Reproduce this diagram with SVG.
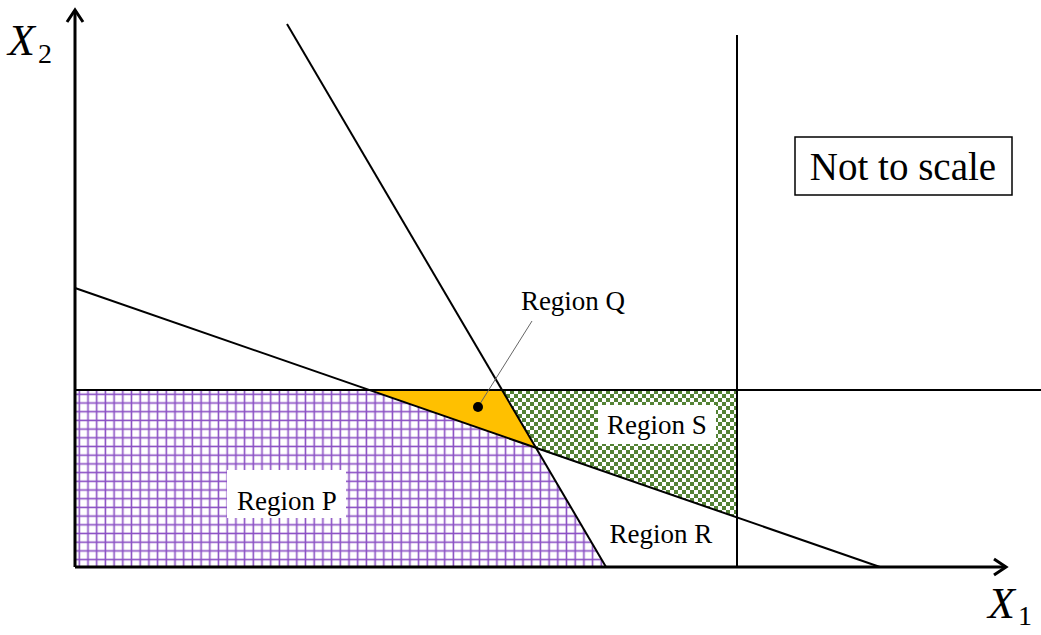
<svg xmlns="http://www.w3.org/2000/svg" width="1041" height="635" viewBox="0 0 1041 635">
<style>
.ln{stroke:#000;stroke-width:2;fill:none}
.ax{stroke:#000;stroke-width:3;fill:none}
.lbl{font-family:"Liberation Serif",serif;font-size:27px;fill:#000;text-anchor:middle}
.var{font-family:"Liberation Serif",serif;font-style:italic;fill:#000}
.sub{font-family:"Liberation Serif",serif;fill:#000}
</style>
<defs>
<pattern id="grid" patternUnits="userSpaceOnUse" x="75" y="390" width="8.7" height="8.7">
<rect width="8.7" height="8.7" fill="#fff"/>
<line x1="4.3" y1="0" x2="4.3" y2="8.7" stroke="#8a4fc4" stroke-width="1.6"/>
<line x1="0" y1="4.3" x2="8.7" y2="4.3" stroke="#8a4fc4" stroke-width="1.6"/>
</pattern>
<pattern id="check" patternUnits="userSpaceOnUse" x="502" y="390" width="8" height="8">
<rect width="8" height="8" fill="#fff"/>
<rect width="4" height="4" fill="#548235"/>
<rect x="4" y="4" width="4" height="4" fill="#548235"/>
</pattern>
</defs>
<rect width="1041" height="635" fill="#fff"/>
<g id="regionP"><polygon points="75,390 369,390 537,449 606,567 75,567" fill="url(#grid)"/></g>
<g id="regionQ"><polygon points="369,390 502,390 537,449" fill="#ffc000"/></g>
<g id="regionS"><polygon points="502,390 737,390 737,517 537,449" fill="url(#check)"/></g>
<g id="connectors">
<line class="ln" x1="287" y1="24" x2="606" y2="567"/>
<line class="ln" x1="75" y1="288" x2="880" y2="567"/>
<line class="ln" x1="75" y1="390" x2="1041" y2="390"/>
<line class="ln" x1="737" y1="35" x2="737" y2="567"/>
<line class="ax" x1="75" y1="567" x2="75" y2="10"/>
<polyline class="ax" points="67,22 75,10 83,22"/>
<line class="ax" x1="75" y1="567" x2="1006" y2="567"/>
<polyline class="ax" points="994,559 1006,567 994,575"/>
<line x1="532" y1="321" x2="478" y2="407" stroke="#666" stroke-width="1"/>
<circle cx="478" cy="407" r="5" fill="#000"/>
</g>
<g id="labelP"><rect x="227" y="470" width="119" height="48" fill="#fff"/><text class="lbl" x="287" y="510">Region P</text></g>
<g id="labelQ"><text class="lbl" x="573" y="310">Region Q</text></g>
<g id="labelS"><rect x="598" y="405" width="118" height="39" fill="#fff"/><text class="lbl" x="657" y="434">Region S</text></g>
<g id="labelR"><text class="lbl" x="661" y="543">Region R</text></g>
<g id="note"><rect x="795" y="137" width="217" height="58" fill="#fff" stroke="#000" stroke-width="1.5"/><text x="903" y="180" font-family="Liberation Serif,serif" font-size="39" text-anchor="middle">Not to scale</text></g>
<g id="x2"><text class="var" x="8" y="55" font-size="44">X</text><text class="sub" x="38" y="63" font-size="28">2</text></g>
<g id="x1"><text class="var" x="988" y="618" font-size="44">X</text><text class="sub" x="1018" y="625" font-size="28">1</text></g>
</svg>
